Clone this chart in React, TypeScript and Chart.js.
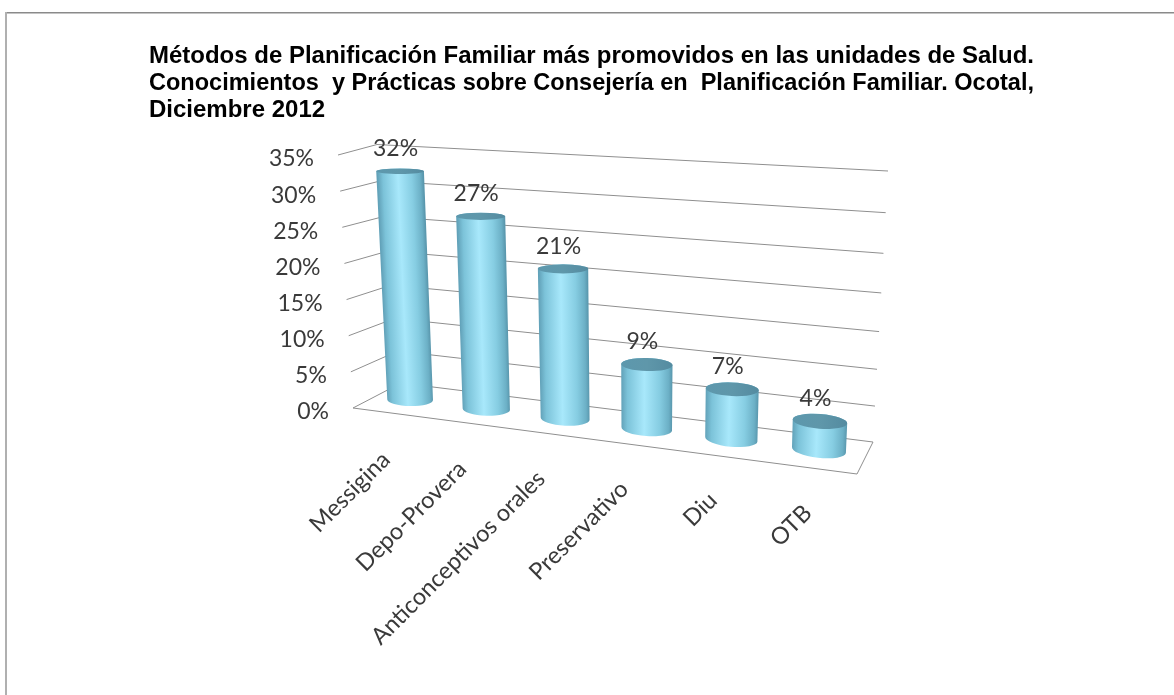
import React, { useEffect, useRef } from "react";
import { Chart, registerables } from "chart.js";

Chart.register(...registerables);

const titleLines = [
  "Métodos de Planificación Familiar más promovidos en las unidades de Salud.",
  "Conocimientos  y Prácticas sobre Consejería en  Planificación Familiar. Ocotal,",
  "Diciembre 2012",
];
const categories = ["Messigina", "Depo-Provera", "Anticonceptivos orales", "Preservativo", "Diu", "OTB"];
const percentages = [32, 27, 21, 9, 7, 4];

const LABEL_FONT = '23px Lato, "Open Sans", sans-serif';
const CATEGORY_FONT = '23.5px Lato, "Open Sans", sans-serif';
const TEXT_COLOR = "#3a3a3a";
const GRID_COLOR = "#8f8f8f";

type P = [number, number];

// Projection of the 3D box: corners are [bottom-left, bottom-right, top-right, top-left]
const homography = (q: [P, P, P, P]) => {
  const [[x0, y0], [x1, y1], [x2, y2], [x3, y3]] = q;
  const dx1 = x1 - x2, dx2 = x3 - x2, sx = x0 - x1 + x2 - x3;
  const dy1 = y1 - y2, dy2 = y3 - y2, sy = y0 - y1 + y2 - y3;
  const den = dx1 * dy2 - dx2 * dy1;
  const g = (sx * dy2 - dx2 * sy) / den;
  const h = (dx1 * sy - sx * dy1) / den;
  const a = x1 - x0 + g * x1, b = x3 - x0 + h * x3;
  const d = y1 - y0 + g * y1, e = y3 - y0 + h * y3;
  return (u: number, v: number): P => {
    const w = g * u + h * v + 1;
    return [(a * u + b * v + x0) / w, (d * u + e * v + y0) / w];
  };
};

const backWall = homography([[401, 383], [873, 442], [888, 171], [377, 144.5]]);
const frontEdge = (v: number): P => [353 - 15 * v, 408 - 253 * v];
const FLOOR_FRONT_RIGHT: P = [857, 474];

// Plane through the middle of the box, in which the cylinders stand
const warp = (u: number) => (0.9 * u) / (1 - 0.1 * u);
const barPlane = (u: number, v: number): P => {
  const w = warp(u);
  const bx = 373 + 491 * w, by = 395.3 + 60.2 * w;
  const tx = 360.2 + 514.8 * w, ty = 145.3 + 60.2 * w;
  return [bx + (tx - bx) * v, by + (ty - by) * v];
};

const capRadiusY = (value: number) => Math.max(2.6, 8 - value * 0.165);

const line = (ctx: CanvasRenderingContext2D, a: P, b: P) => {
  ctx.beginPath();
  ctx.moveTo(a[0], a[1]);
  ctx.lineTo(b[0], b[1]);
  ctx.stroke();
};

const frame3d = {
  id: "frame3d",
  beforeDatasetsDraw(chart: any) {
    const { ctx, scales } = chart;
    const y = scales.y;
    ctx.save();
    // picture frame
    ctx.strokeStyle = "#8a8a8a";
    ctx.lineWidth = 1.5;
    line(ctx, [5, 12.7], [1174, 12.7]);
    ctx.strokeStyle = "#b0b0b0";
    ctx.lineWidth = 2;
    line(ctx, [6, 12], [6, 695]);
    // walls
    ctx.strokeStyle = GRID_COLOR;
    ctx.lineWidth = 1;
    y.ticks.forEach((t: any) => {
      const v = (y.bottom - y.getPixelForValue(t.value)) / y.height;
      line(ctx, frontEdge(v), backWall(0, v));
      line(ctx, backWall(0, v), backWall(1, v));
    });
    // floor
    line(ctx, frontEdge(0), FLOOR_FRONT_RIGHT);
    line(ctx, FLOOR_FRONT_RIGHT, backWall(1, 0));
    // value axis labels
    ctx.font = LABEL_FONT;
    ctx.fillStyle = TEXT_COLOR;
    ctx.textAlign = "right";
    ctx.textBaseline = "middle";
    y.ticks.forEach((t: any) => {
      const v = (y.bottom - y.getPixelForValue(t.value)) / y.height;
      const [px, py] = frontEdge(v);
      ctx.fillText(t.value + "%", px - 24, py + 4);
    });
    ctx.restore();
  },
  afterDatasetsDraw(chart: any) {
    const { ctx, scales } = chart;
    const x = scales.x, y = scales.y;
    const meta = chart.getDatasetMeta(0);
    const values = chart.data.datasets[0].data as number[];
    meta.data.forEach((el: any, i: number) => {
      const value = values[i];
      const u = (el.x - x.left) / x.width;
      const v = (y.bottom - el.y) / y.height;
      const du = el.width / 2 / x.width;
      const base = barPlane(u, 0);
      const top = barPlane(u, v);
      const rb = (barPlane(u + du, 0)[0] - barPlane(u - du, 0)[0]) / 2;
      const rt = (barPlane(u + du, v)[0] - barPlane(u - du, v)[0]) / 2;
      const h = base[1] - top[1];
      const k = (base[0] - top[0]) / h;
      const floorTilt = Math.atan2(
        barPlane(u + du, 0)[1] - barPlane(u - du, 0)[1],
        barPlane(u + du, 0)[0] - barPlane(u - du, 0)[0],
      );
      const bottomTilt = floorTilt * u;
      const topTilt = floorTilt * u * Math.max(0, 1 - value / 14);
      const ryB = capRadiusY(0) * (0.75 + 0.25 * u);
      const ryT = capRadiusY(value);

      ctx.save();
      ctx.translate(base[0], base[1]);
      ctx.transform(1, 0, k, 1, 0, 0);

      const g = ctx.createLinearGradient(-rb, 0, rb, 0);
      g.addColorStop(0, "#62a2b9");
      g.addColorStop(0.12, "#7cc3d9");
      g.addColorStop(0.45, "#a8e8fb");
      g.addColorStop(0.75, "#86cde2");
      g.addColorStop(0.93, "#6cb0c6");
      g.addColorStop(1, "#5a98ae");

      ctx.beginPath();
      ctx.ellipse(0, 0, rb, ryB, bottomTilt, 0, Math.PI);
      ctx.ellipse(0, -h, rt, ryT, topTilt, Math.PI, Math.PI * 2);
      ctx.closePath();
      ctx.fillStyle = g;
      ctx.fill();

      const cap = ctx.createLinearGradient(-rt, 0, rt, 0);
      cap.addColorStop(0, "#5d98ad");
      cap.addColorStop(0.5, "#5f97aa");
      cap.addColorStop(1, "#548ba0");
      ctx.beginPath();
      ctx.ellipse(0, -h, rt, ryT, topTilt, 0, Math.PI * 2);
      ctx.fillStyle = cap;
      ctx.fill();
      ctx.restore();
    });

    ctx.save();
    ctx.font = LABEL_FONT;
    ctx.fillStyle = TEXT_COLOR;
    ctx.textBaseline = "middle";
    // data labels
    ctx.textAlign = "center";
    meta.data.forEach((el: any, i: number) => {
      const u = (el.x - x.left) / x.width;
      const v = (y.bottom - el.y) / y.height;
      const [px, py] = barPlane(u, v);
      ctx.fillText(values[i] + "%", px - 4.5, py - 22.5);
    });
    // category labels, following the front edge of the floor
    ctx.font = CATEGORY_FONT;
    ctx.textAlign = "right";
    meta.data.forEach((el: any, i: number) => {
      const u = (el.x - x.left) / x.width;
      const [px, py] = barPlane(u, 0);
      const spread = Math.max(0, (u - 0.4) / 0.52);
      const dx = -5 + 13 * spread * spread;
      const dy = 3 + (dx + 5) * 0.25;
      ctx.save();
      ctx.translate(px - 19 + dx, py + 53 + dy);
      ctx.rotate(-Math.PI / 4);
      ctx.fillText(x.getLabelForValue(i), 0, 0);
      ctx.restore();
    });
    ctx.restore();
  },
};

export default function App() {
  const ref = useRef<HTMLCanvasElement>(null);
  useEffect(() => {
    const chart = new Chart(ref.current!, {
      type: "bar",
      data: {
        labels: categories,
        datasets: [
          {
            data: percentages,
            backgroundColor: "rgba(0,0,0,0)",
            borderWidth: 0,
            barPercentage: 0.61,
            categoryPercentage: 1,
          },
        ],
      },
      options: {
        animation: false,
        responsive: false,
        devicePixelRatio: 1,
        layout: { padding: { left: 149, right: 140, top: 43, bottom: 283 } },
        scales: {
          x: { grid: { display: false }, border: { display: false }, ticks: { display: false } },
          y: {
            min: 0,
            max: 35,
            grid: { display: false },
            border: { display: false },
            ticks: { display: false, stepSize: 5 },
          },
        },
        plugins: {
          legend: { display: false },
          tooltip: { enabled: false },
          title: {
            display: true,
            text: titleLines,
            align: "start",
            color: "#000000",
            font: { family: '"Liberation Sans", Arial, sans-serif', size: 24, weight: "bold", lineHeight: 27 / 24 },
            padding: { top: 0, bottom: 33 },
          },
        },
      },
      plugins: [frame3d],
    } as any);
    return () => chart.destroy();
  }, []);
  return (
    <div style={{ position: "fixed", left: 0, top: 0, width: 1174, height: 695, background: "#fff", overflow: "hidden" }}>
      <canvas ref={ref} width={1174} height={695} style={{ display: "block" }} />
    </div>
  );
}
